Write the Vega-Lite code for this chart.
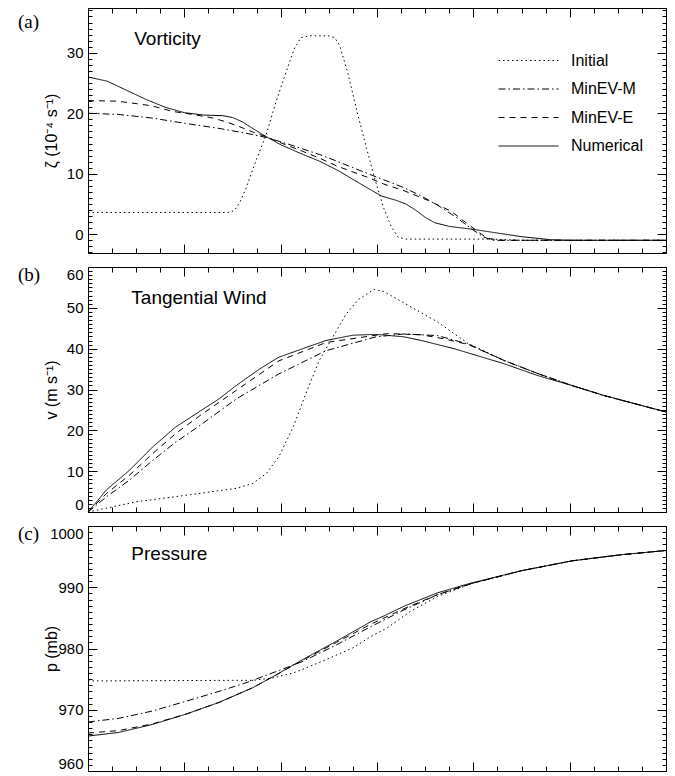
{
  "$schema": "https://vega.github.io/schema/vega-lite/v6.json",
  "background": "white",
  "padding": {"left": 17, "top": 7, "right": 10, "bottom": 6},
  "autosize": {"type": "pad"},
  "spacing": 14,
  "bounds": "flush",
  "resolve": {"legend": {"strokeDash": "independent"}},
  "config": {
    "view": {"stroke": "black", "strokeWidth": 1},
    "font": "Liberation Sans",
    "axis": {"grid": false, "domain": false, "tickColor": "black", "labelColor": "black", "labelFont": "Liberation Sans", "labelFontSize": 15, "titleFont": "Liberation Sans", "titleFontSize": 16, "titleFontWeight": "normal", "titleColor": "black", "tickWidth": 1, "labelOverlap": false, "labelBound": false, "title": null},
    "legend": {"labelFont": "Liberation Sans", "labelFontSize": 16, "labelColor": "black"}
  },
  "datasets": {
    "d": [
      {"panel":"a","series":"Initial","r":0,"v":3.6},{"panel":"a","series":"Initial","r":1.0,"v":3.6},{"panel":"a","series":"Initial","r":1.45,"v":3.6},{"panel":"a","series":"Initial","r":1.52,"v":3.9},{"panel":"a","series":"Initial","r":1.58,"v":5.4},{"panel":"a","series":"Initial","r":1.64,"v":7.6},{"panel":"a","series":"Initial","r":1.74,"v":12.0},{"panel":"a","series":"Initial","r":1.85,"v":16.5},{"panel":"a","series":"Initial","r":1.95,"v":21.8},{"panel":"a","series":"Initial","r":2.06,"v":27.0},{"panel":"a","series":"Initial","r":2.14,"v":30.6},{"panel":"a","series":"Initial","r":2.21,"v":32.5},{"panel":"a","series":"Initial","r":2.3,"v":32.8},{"panel":"a","series":"Initial","r":2.5,"v":32.8},{"panel":"a","series":"Initial","r":2.56,"v":32.5},{"panel":"a","series":"Initial","r":2.61,"v":31.3},{"panel":"a","series":"Initial","r":2.7,"v":26.5},{"panel":"a","series":"Initial","r":2.8,"v":19.8},{"panel":"a","series":"Initial","r":2.89,"v":14.3},{"panel":"a","series":"Initial","r":2.98,"v":9.0},{"panel":"a","series":"Initial","r":3.07,"v":4.3},{"panel":"a","series":"Initial","r":3.15,"v":1.2},{"panel":"a","series":"Initial","r":3.22,"v":-0.5},{"panel":"a","series":"Initial","r":3.3,"v":-0.8},{"panel":"a","series":"Initial","r":4.2,"v":-0.8},{"panel":"a","series":"Initial","r":4.5,"v":-1.0},{"panel":"a","series":"Initial","r":6,"v":-1.0},
      {"panel":"a","series":"MinEV-M","r":0,"v":20.0},{"panel":"a","series":"MinEV-M","r":0.32,"v":19.8},{"panel":"a","series":"MinEV-M","r":0.67,"v":19.2},{"panel":"a","series":"MinEV-M","r":1.02,"v":18.3},{"panel":"a","series":"MinEV-M","r":1.36,"v":17.5},{"panel":"a","series":"MinEV-M","r":1.64,"v":16.7},{"panel":"a","series":"MinEV-M","r":1.85,"v":16.0},{"panel":"a","series":"MinEV-M","r":2.06,"v":15.0},{"panel":"a","series":"MinEV-M","r":2.23,"v":14.1},{"panel":"a","series":"MinEV-M","r":2.4,"v":13.2},{"panel":"a","series":"MinEV-M","r":2.58,"v":12.1},{"panel":"a","series":"MinEV-M","r":2.75,"v":11.0},{"panel":"a","series":"MinEV-M","r":2.94,"v":9.8},{"panel":"a","series":"MinEV-M","r":3.07,"v":9.0},{"panel":"a","series":"MinEV-M","r":3.28,"v":7.7},{"panel":"a","series":"MinEV-M","r":3.45,"v":6.4},{"panel":"a","series":"MinEV-M","r":3.63,"v":4.8},{"panel":"a","series":"MinEV-M","r":3.84,"v":2.6},{"panel":"a","series":"MinEV-M","r":3.98,"v":0.9},{"panel":"a","series":"MinEV-M","r":4.1,"v":-0.4},{"panel":"a","series":"MinEV-M","r":4.2,"v":-1.0},{"panel":"a","series":"MinEV-M","r":6,"v":-1.0},
      {"panel":"a","series":"MinEV-E","r":0,"v":22.1},{"panel":"a","series":"MinEV-E","r":0.3,"v":22.0},{"panel":"a","series":"MinEV-E","r":0.5,"v":21.6},{"panel":"a","series":"MinEV-E","r":0.67,"v":21.2},{"panel":"a","series":"MinEV-E","r":0.88,"v":20.3},{"panel":"a","series":"MinEV-E","r":1.09,"v":19.8},{"panel":"a","series":"MinEV-E","r":1.3,"v":19.2},{"panel":"a","series":"MinEV-E","r":1.43,"v":18.6},{"panel":"a","series":"MinEV-E","r":1.57,"v":17.8},{"panel":"a","series":"MinEV-E","r":1.71,"v":16.9},{"panel":"a","series":"MinEV-E","r":1.85,"v":16.1},{"panel":"a","series":"MinEV-E","r":2.05,"v":14.8},{"panel":"a","series":"MinEV-E","r":2.23,"v":13.7},{"panel":"a","series":"MinEV-E","r":2.4,"v":12.6},{"panel":"a","series":"MinEV-E","r":2.58,"v":11.3},{"panel":"a","series":"MinEV-E","r":2.75,"v":10.3},{"panel":"a","series":"MinEV-E","r":2.92,"v":9.3},{"panel":"a","series":"MinEV-E","r":3.07,"v":8.3},{"panel":"a","series":"MinEV-E","r":3.28,"v":7.2},{"panel":"a","series":"MinEV-E","r":3.53,"v":5.6},{"panel":"a","series":"MinEV-E","r":3.77,"v":3.8},{"panel":"a","series":"MinEV-E","r":3.9,"v":2.2},{"panel":"a","series":"MinEV-E","r":4.05,"v":0.4},{"panel":"a","series":"MinEV-E","r":4.15,"v":-0.7},{"panel":"a","series":"MinEV-E","r":4.3,"v":-1.0},{"panel":"a","series":"MinEV-E","r":6,"v":-1.0},
      {"panel":"a","series":"Numerical","r":0,"v":26.0},{"panel":"a","series":"Numerical","r":0.2,"v":25.3},{"panel":"a","series":"Numerical","r":0.4,"v":23.8},{"panel":"a","series":"Numerical","r":0.6,"v":22.3},{"panel":"a","series":"Numerical","r":0.8,"v":21.0},{"panel":"a","series":"Numerical","r":1.0,"v":20.1},{"panel":"a","series":"Numerical","r":1.2,"v":19.7},{"panel":"a","series":"Numerical","r":1.4,"v":19.6},{"panel":"a","series":"Numerical","r":1.5,"v":19.3},{"panel":"a","series":"Numerical","r":1.6,"v":18.6},{"panel":"a","series":"Numerical","r":1.7,"v":17.6},{"panel":"a","series":"Numerical","r":1.8,"v":16.6},{"panel":"a","series":"Numerical","r":1.9,"v":15.7},{"panel":"a","series":"Numerical","r":2.0,"v":14.8},{"panel":"a","series":"Numerical","r":2.2,"v":13.4},{"panel":"a","series":"Numerical","r":2.4,"v":12.1},{"panel":"a","series":"Numerical","r":2.6,"v":10.5},{"panel":"a","series":"Numerical","r":2.8,"v":8.6},{"panel":"a","series":"Numerical","r":2.95,"v":7.2},{"panel":"a","series":"Numerical","r":3.05,"v":6.3},{"panel":"a","series":"Numerical","r":3.2,"v":5.6},{"panel":"a","series":"Numerical","r":3.3,"v":5.0},{"panel":"a","series":"Numerical","r":3.4,"v":4.0},{"panel":"a","series":"Numerical","r":3.5,"v":2.8},{"panel":"a","series":"Numerical","r":3.6,"v":1.9},{"panel":"a","series":"Numerical","r":3.75,"v":1.3},{"panel":"a","series":"Numerical","r":4.0,"v":0.8},{"panel":"a","series":"Numerical","r":4.25,"v":0.2},{"panel":"a","series":"Numerical","r":4.5,"v":-0.4},{"panel":"a","series":"Numerical","r":4.8,"v":-0.9},{"panel":"a","series":"Numerical","r":5.0,"v":-1.0},{"panel":"a","series":"Numerical","r":6.0,"v":-1.0},

      {"panel":"b","series":"Initial","r":0,"v":0},{"panel":"b","series":"Initial","r":0.5,"v":2.5},{"panel":"b","series":"Initial","r":1.02,"v":4.1},{"panel":"b","series":"Initial","r":1.54,"v":5.8},{"panel":"b","series":"Initial","r":1.71,"v":7.0},{"panel":"b","series":"Initial","r":1.85,"v":9.4},{"panel":"b","series":"Initial","r":1.98,"v":13.5},{"panel":"b","series":"Initial","r":2.13,"v":20.8},{"panel":"b","series":"Initial","r":2.26,"v":28.9},{"panel":"b","series":"Initial","r":2.4,"v":37.1},{"panel":"b","series":"Initial","r":2.54,"v":42.8},{"panel":"b","series":"Initial","r":2.68,"v":48.5},{"panel":"b","series":"Initial","r":2.81,"v":52.1},{"panel":"b","series":"Initial","r":2.97,"v":54.5},{"panel":"b","series":"Initial","r":3.07,"v":54.0},{"panel":"b","series":"Initial","r":3.28,"v":51.2},{"panel":"b","series":"Initial","r":3.63,"v":46.5},{"panel":"b","series":"Initial","r":3.95,"v":41.2},{"panel":"b","series":"Initial","r":4.32,"v":37.1},{"panel":"b","series":"Initial","r":4.67,"v":33.9},{"panel":"b","series":"Initial","r":5.02,"v":31.0},{"panel":"b","series":"Initial","r":5.36,"v":28.5},{"panel":"b","series":"Initial","r":6,"v":24.5},
      {"panel":"b","series":"MinEV-M","r":0,"v":0},{"panel":"b","series":"MinEV-M","r":0.19,"v":3.7},{"panel":"b","series":"MinEV-M","r":0.43,"v":7.8},{"panel":"b","series":"MinEV-M","r":0.67,"v":12.6},{"panel":"b","series":"MinEV-M","r":0.91,"v":17.1},{"panel":"b","series":"MinEV-M","r":1.15,"v":21.0},{"panel":"b","series":"MinEV-M","r":1.54,"v":27.7},{"panel":"b","series":"MinEV-M","r":1.98,"v":33.8},{"panel":"b","series":"MinEV-M","r":2.47,"v":39.5},{"panel":"b","series":"MinEV-M","r":2.99,"v":42.9},{"panel":"b","series":"MinEV-M","r":3.28,"v":43.6},{"panel":"b","series":"MinEV-M","r":3.63,"v":43.2},{"panel":"b","series":"MinEV-M","r":3.95,"v":41.1},{"panel":"b","series":"MinEV-M","r":4.32,"v":37.1},{"panel":"b","series":"MinEV-M","r":4.67,"v":33.9},{"panel":"b","series":"MinEV-M","r":5.02,"v":31.0},{"panel":"b","series":"MinEV-M","r":5.36,"v":28.5},{"panel":"b","series":"MinEV-M","r":6,"v":24.5},
      {"panel":"b","series":"MinEV-E","r":0,"v":0},{"panel":"b","series":"MinEV-E","r":0.19,"v":4.5},{"panel":"b","series":"MinEV-E","r":0.43,"v":9.0},{"panel":"b","series":"MinEV-E","r":0.67,"v":14.3},{"panel":"b","series":"MinEV-E","r":0.91,"v":19.2},{"panel":"b","series":"MinEV-E","r":1.15,"v":23.4},{"panel":"b","series":"MinEV-E","r":1.54,"v":29.8},{"panel":"b","series":"MinEV-E","r":1.98,"v":37.0},{"panel":"b","series":"MinEV-E","r":2.47,"v":41.5},{"panel":"b","series":"MinEV-E","r":2.99,"v":43.3},{"panel":"b","series":"MinEV-E","r":3.11,"v":43.7},{"panel":"b","series":"MinEV-E","r":3.46,"v":43.4},{"panel":"b","series":"MinEV-E","r":3.7,"v":42.4},{"panel":"b","series":"MinEV-E","r":3.95,"v":41.0},{"panel":"b","series":"MinEV-E","r":4.32,"v":37.1},{"panel":"b","series":"MinEV-E","r":4.67,"v":33.9},{"panel":"b","series":"MinEV-E","r":5.02,"v":31.0},{"panel":"b","series":"MinEV-E","r":5.36,"v":28.5},{"panel":"b","series":"MinEV-E","r":6,"v":24.5},
      {"panel":"b","series":"Numerical","r":0,"v":0},{"panel":"b","series":"Numerical","r":0.1,"v":2.8},{"panel":"b","series":"Numerical","r":0.19,"v":5.4},{"panel":"b","series":"Numerical","r":0.43,"v":10.2},{"panel":"b","series":"Numerical","r":0.67,"v":15.9},{"panel":"b","series":"Numerical","r":0.91,"v":20.8},{"panel":"b","series":"Numerical","r":1.15,"v":24.5},{"panel":"b","series":"Numerical","r":1.36,"v":27.7},{"panel":"b","series":"Numerical","r":1.54,"v":31.0},{"panel":"b","series":"Numerical","r":1.78,"v":35.0},{"panel":"b","series":"Numerical","r":1.98,"v":37.9},{"panel":"b","series":"Numerical","r":2.23,"v":40.0},{"panel":"b","series":"Numerical","r":2.47,"v":42.0},{"panel":"b","series":"Numerical","r":2.75,"v":43.3},{"panel":"b","series":"Numerical","r":2.99,"v":43.5},{"panel":"b","series":"Numerical","r":3.28,"v":42.9},{"panel":"b","series":"Numerical","r":3.46,"v":42.0},{"panel":"b","series":"Numerical","r":3.8,"v":40.0},{"panel":"b","series":"Numerical","r":4.32,"v":36.3},{"panel":"b","series":"Numerical","r":4.67,"v":33.4},{"panel":"b","series":"Numerical","r":5.02,"v":31.0},{"panel":"b","series":"Numerical","r":5.36,"v":28.5},{"panel":"b","series":"Numerical","r":6,"v":24.5},

      {"panel":"c","series":"Initial","r":0,"v":974.7},{"panel":"c","series":"Initial","r":1.5,"v":974.8},{"panel":"c","series":"Initial","r":1.71,"v":974.8},{"panel":"c","series":"Initial","r":1.92,"v":975.2},{"panel":"c","series":"Initial","r":2.13,"v":976.0},{"panel":"c","series":"Initial","r":2.4,"v":977.7},{"panel":"c","series":"Initial","r":2.75,"v":980.1},{"panel":"c","series":"Initial","r":2.94,"v":982.0},{"panel":"c","series":"Initial","r":3.11,"v":983.4},{"panel":"c","series":"Initial","r":3.35,"v":986.1},{"panel":"c","series":"Initial","r":3.63,"v":988.5},{"panel":"c","series":"Initial","r":3.98,"v":990.6},{"panel":"c","series":"Initial","r":4.5,"v":992.7},{"panel":"c","series":"Initial","r":5.02,"v":994.3},{"panel":"c","series":"Initial","r":5.53,"v":995.3},{"panel":"c","series":"Initial","r":6,"v":996.0},
      {"panel":"c","series":"MinEV-M","r":0,"v":968.0},{"panel":"c","series":"MinEV-M","r":0.32,"v":968.6},{"panel":"c","series":"MinEV-M","r":0.67,"v":969.8},{"panel":"c","series":"MinEV-M","r":1.02,"v":971.4},{"panel":"c","series":"MinEV-M","r":1.36,"v":973.0},{"panel":"c","series":"MinEV-M","r":1.64,"v":974.4},{"panel":"c","series":"MinEV-M","r":1.88,"v":975.8},{"panel":"c","series":"MinEV-M","r":2.23,"v":977.9},{"panel":"c","series":"MinEV-M","r":2.58,"v":980.6},{"panel":"c","series":"MinEV-M","r":2.94,"v":983.6},{"panel":"c","series":"MinEV-M","r":3.28,"v":986.3},{"panel":"c","series":"MinEV-M","r":3.63,"v":988.8},{"panel":"c","series":"MinEV-M","r":3.98,"v":990.6},{"panel":"c","series":"MinEV-M","r":4.5,"v":992.7},{"panel":"c","series":"MinEV-M","r":5.02,"v":994.3},{"panel":"c","series":"MinEV-M","r":5.53,"v":995.3},{"panel":"c","series":"MinEV-M","r":6,"v":996.0},
      {"panel":"c","series":"MinEV-E","r":0,"v":966.2},{"panel":"c","series":"MinEV-E","r":0.32,"v":966.6},{"panel":"c","series":"MinEV-E","r":0.67,"v":967.7},{"panel":"c","series":"MinEV-E","r":1.02,"v":969.3},{"panel":"c","series":"MinEV-E","r":1.36,"v":971.2},{"panel":"c","series":"MinEV-E","r":1.71,"v":973.6},{"panel":"c","series":"MinEV-E","r":1.92,"v":975.4},{"panel":"c","series":"MinEV-E","r":2.23,"v":978.1},{"panel":"c","series":"MinEV-E","r":2.58,"v":981.0},{"panel":"c","series":"MinEV-E","r":2.94,"v":984.0},{"panel":"c","series":"MinEV-E","r":3.28,"v":986.5},{"panel":"c","series":"MinEV-E","r":3.63,"v":988.8},{"panel":"c","series":"MinEV-E","r":3.98,"v":990.6},{"panel":"c","series":"MinEV-E","r":4.5,"v":992.7},{"panel":"c","series":"MinEV-E","r":5.02,"v":994.3},{"panel":"c","series":"MinEV-E","r":5.53,"v":995.3},{"panel":"c","series":"MinEV-E","r":6,"v":996.0},
      {"panel":"c","series":"Numerical","r":0,"v":965.7},{"panel":"c","series":"Numerical","r":0.32,"v":966.3},{"panel":"c","series":"Numerical","r":0.67,"v":967.6},{"panel":"c","series":"Numerical","r":1.02,"v":969.3},{"panel":"c","series":"Numerical","r":1.36,"v":971.2},{"panel":"c","series":"Numerical","r":1.71,"v":973.6},{"panel":"c","series":"Numerical","r":1.92,"v":975.4},{"panel":"c","series":"Numerical","r":2.23,"v":978.2},{"panel":"c","series":"Numerical","r":2.58,"v":981.2},{"panel":"c","series":"Numerical","r":2.94,"v":984.4},{"panel":"c","series":"Numerical","r":3.07,"v":985.3},{"panel":"c","series":"Numerical","r":3.28,"v":986.9},{"panel":"c","series":"Numerical","r":3.63,"v":989.1},{"panel":"c","series":"Numerical","r":3.98,"v":990.7},{"panel":"c","series":"Numerical","r":4.5,"v":992.7},{"panel":"c","series":"Numerical","r":5.02,"v":994.3},{"panel":"c","series":"Numerical","r":5.53,"v":995.3},{"panel":"c","series":"Numerical","r":6,"v":996.0}
    ],
    "labels": [
      {"panel":"a","text":"Vorticity"},
      {"panel":"b","text":"Tangential Wind"},
      {"panel":"c","text":"Pressure"}
    ]
  },
  "vconcat": [
    {
      "width": 578, "height": 245,
      "title": {"text": "(a)", "orient": "top", "anchor": "start", "frame": "group", "dx": -70, "offset": -24, "font": "Liberation Serif", "fontSize": 19, "fontWeight": "normal", "color": "black"},
      "resolve": {"axis": {"x": "independent", "y": "independent"}},
      "layer": [
        {
          "data": {"name": "d"},
          "transform": [{"filter": "datum.panel === 'a'"}],
          "mark": {"type": "line", "color": "black", "strokeWidth": 1},
          "encoding": {
            "x": {"field": "r", "type": "quantitative", "scale": {"domain": [0, 6], "nice": false, "zero": false},
              "axis": {"orient": "bottom", "labels": false, "values": [0,1,2,3,4,5,6], "tickSize": -9}},
            "y": {"field": "v", "type": "quantitative", "scale": {"domain": [-3.1, 37.4], "nice": false, "zero": false},
              "axis": {"orient": "left", "title": "ζ  (10⁻⁴ s⁻¹)", "titleX": -37, "titleBaseline": "middle", "values": [0,10,20,30], "labelExpr": "format(datum.value, 'd')", "tickSize": -9, "labelPadding": 14}},
            "strokeDash": {"field": "series", "type": "nominal",
              "scale": {"domain": ["Initial", "MinEV-M", "MinEV-E", "Numerical"], "range": [[1.5, 3], [7, 3, 1.5, 3], [6, 5], [1, 0]]},
              "legend": {"orient": "none", "legendX": 430, "legendY": 42, "title": null, "symbolType": "M-3,0H3", "symbolSize": 400, "symbolStrokeWidth": 1, "symbolStrokeColor": "black", "labelOffset": 32, "rowPadding": 9.5, "padding": 0}}
          }
        },
        {
          "data": {"name": "labels"},
          "transform": [{"filter": "datum.panel === 'a'"}],
          "mark": {"type": "text", "align": "left", "baseline": "middle", "fontSize": 19, "font": "Liberation Sans", "color": "black"},
          "encoding": {
            "x": {"datum": 0.48, "type": "quantitative", "scale": {"domain": [0, 6], "nice": false, "zero": false},
              "axis": {"orient": "top", "labels": false, "values": [0,1,2,3,4,5,6], "tickSize": -9}},
            "y": {"datum": 32.3, "type": "quantitative", "scale": {"domain": [-3.1, 37.4], "nice": false, "zero": false},
              "axis": {"orient": "right", "labels": false, "values": [0,10,20,30], "tickSize": -9}},
            "text": {"field": "text"}
          }
        },
        {
          "data": {"name": "labels"},
          "transform": [{"filter": "datum.panel === 'a'"}],
          "mark": {"type": "text"},
          "encoding": {
            "x": {"datum": 0.48, "type": "quantitative", "scale": {"domain": [0, 6], "nice": false, "zero": false},
              "axis": {"orient": "bottom", "labels": false, "values": [0.25,0.5,0.75,1.25,1.5,1.75,2.25,2.5,2.75,3.25,3.5,3.75,4.25,4.5,4.75,5.25,5.5,5.75], "tickSize": -5}},
            "y": {"datum": 32.3, "type": "quantitative", "scale": {"domain": [-3.1, 37.4], "nice": false, "zero": false},
              "axis": {"orient": "left", "labels": false, "values": [-3,-2,-1,1,2,3,4,5,6,7,8,9,11,12,13,14,15,16,17,18,19,21,22,23,24,25,26,27,28,29,31,32,33,34,35,36,37], "tickSize": -4}},
            "text": {"value": ""}
          }
        },
        {
          "data": {"name": "labels"},
          "transform": [{"filter": "datum.panel === 'a'"}],
          "mark": {"type": "text"},
          "encoding": {
            "x": {"datum": 0.48, "type": "quantitative", "scale": {"domain": [0, 6], "nice": false, "zero": false},
              "axis": {"orient": "top", "labels": false, "values": [0.25,0.5,0.75,1.25,1.5,1.75,2.25,2.5,2.75,3.25,3.5,3.75,4.25,4.5,4.75,5.25,5.5,5.75], "tickSize": -5}},
            "y": {"datum": 32.3, "type": "quantitative", "scale": {"domain": [-3.1, 37.4], "nice": false, "zero": false},
              "axis": {"orient": "right", "labels": false, "values": [-3,-2,-1,1,2,3,4,5,6,7,8,9,11,12,13,14,15,16,17,18,19,21,22,23,24,25,26,27,28,29,31,32,33,34,35,36,37], "tickSize": -4}},
            "text": {"value": ""}
          }
        }
      ]
    },
    {
      "width": 578, "height": 245,
      "title": {"text": "(b)", "orient": "top", "anchor": "start", "frame": "group", "dx": -70, "offset": -18, "font": "Liberation Serif", "fontSize": 19, "fontWeight": "normal", "color": "black"},
      "resolve": {"axis": {"x": "independent", "y": "independent"}},
      "layer": [
        {
          "data": {"name": "d"},
          "transform": [{"filter": "datum.panel === 'b'"}],
          "mark": {"type": "line", "color": "black", "strokeWidth": 1},
          "encoding": {
            "x": {"field": "r", "type": "quantitative", "scale": {"domain": [0, 6], "nice": false, "zero": false},
              "axis": {"orient": "bottom", "labels": false, "values": [0,1,2,3,4,5,6], "tickSize": -9}},
            "y": {"field": "v", "type": "quantitative", "scale": {"domain": [0, 60], "nice": false, "zero": false},
              "axis": {"orient": "left", "title": "v  (m s⁻¹)", "titleX": -37, "titleBaseline": "middle", "values": [0,10,20,30,40,50,60], "labelExpr": "format(datum.value, 'd')", "labelFlush": 2, "tickSize": -9, "labelPadding": 14}},
            "strokeDash": {"field": "series", "type": "nominal",
              "scale": {"domain": ["Initial", "MinEV-M", "MinEV-E", "Numerical"], "range": [[1.5, 3], [7, 3, 1.5, 3], [6, 5], [1, 0]]},
              "legend": null}
          }
        },
        {
          "data": {"name": "labels"},
          "transform": [{"filter": "datum.panel === 'b'"}],
          "mark": {"type": "text", "align": "left", "baseline": "middle", "fontSize": 19, "font": "Liberation Sans", "color": "black"},
          "encoding": {
            "x": {"datum": 0.45, "type": "quantitative", "scale": {"domain": [0, 6], "nice": false, "zero": false},
              "axis": {"orient": "top", "labels": false, "values": [0,1,2,3,4,5,6], "tickSize": -9}},
            "y": {"datum": 52.4, "type": "quantitative", "scale": {"domain": [0, 60], "nice": false, "zero": false},
              "axis": {"orient": "right", "labels": false, "values": [0,10,20,30,40,50,60], "tickSize": -9}},
            "text": {"field": "text"}
          }
        },
        {
          "data": {"name": "labels"},
          "transform": [{"filter": "datum.panel === 'b'"}],
          "mark": {"type": "text"},
          "encoding": {
            "x": {"datum": 0.45, "type": "quantitative", "scale": {"domain": [0, 6], "nice": false, "zero": false},
              "axis": {"orient": "bottom", "labels": false, "values": [0.25,0.5,0.75,1.25,1.5,1.75,2.25,2.5,2.75,3.25,3.5,3.75,4.25,4.5,4.75,5.25,5.5,5.75], "tickSize": -5}},
            "y": {"datum": 52.4, "type": "quantitative", "scale": {"domain": [0, 60], "nice": false, "zero": false},
              "axis": {"orient": "left", "labels": false, "values": [1,2,3,4,5,6,7,8,9,11,12,13,14,15,16,17,18,19,21,22,23,24,25,26,27,28,29,31,32,33,34,35,36,37,38,39,41,42,43,44,45,46,47,48,49,51,52,53,54,55,56,57,58,59], "tickSize": -4}},
            "text": {"value": ""}
          }
        },
        {
          "data": {"name": "labels"},
          "transform": [{"filter": "datum.panel === 'b'"}],
          "mark": {"type": "text"},
          "encoding": {
            "x": {"datum": 0.45, "type": "quantitative", "scale": {"domain": [0, 6], "nice": false, "zero": false},
              "axis": {"orient": "top", "labels": false, "values": [0.25,0.5,0.75,1.25,1.5,1.75,2.25,2.5,2.75,3.25,3.5,3.75,4.25,4.5,4.75,5.25,5.5,5.75], "tickSize": -5}},
            "y": {"datum": 52.4, "type": "quantitative", "scale": {"domain": [0, 60], "nice": false, "zero": false},
              "axis": {"orient": "right", "labels": false, "values": [1,2,3,4,5,6,7,8,9,11,12,13,14,15,16,17,18,19,21,22,23,24,25,26,27,28,29,31,32,33,34,35,36,37,38,39,41,42,43,44,45,46,47,48,49,51,52,53,54,55,56,57,58,59], "tickSize": -4}},
            "text": {"value": ""}
          }
        }
      ]
    },
    {
      "width": 578, "height": 245,
      "title": {"text": "(c)", "orient": "top", "anchor": "start", "frame": "group", "dx": -70, "offset": -18, "font": "Liberation Serif", "fontSize": 19, "fontWeight": "normal", "color": "black"},
      "resolve": {"axis": {"x": "independent", "y": "independent"}},
      "layer": [
        {
          "data": {"name": "d"},
          "transform": [{"filter": "datum.panel === 'c'"}],
          "mark": {"type": "line", "color": "black", "strokeWidth": 1},
          "encoding": {
            "x": {"field": "r", "type": "quantitative", "scale": {"domain": [0, 6], "nice": false, "zero": false},
              "axis": {"orient": "bottom", "labels": false, "values": [0,1,2,3,4,5,6], "tickSize": -9}},
            "y": {"field": "v", "type": "quantitative", "scale": {"domain": [960, 1000], "nice": false, "zero": false},
              "axis": {"orient": "left", "title": "p  (mb)", "titleX": -37, "titleBaseline": "middle", "values": [960,970,980,990,1000], "labelExpr": "format(datum.value, 'd')", "labelFlush": 2, "tickSize": -9, "labelPadding": 14}},
            "strokeDash": {"field": "series", "type": "nominal",
              "scale": {"domain": ["Initial", "MinEV-M", "MinEV-E", "Numerical"], "range": [[1.5, 3], [7, 3, 1.5, 3], [6, 5], [1, 0]]},
              "legend": null}
          }
        },
        {
          "data": {"name": "labels"},
          "transform": [{"filter": "datum.panel === 'c'"}],
          "mark": {"type": "text", "align": "left", "baseline": "middle", "fontSize": 19, "font": "Liberation Sans", "color": "black"},
          "encoding": {
            "x": {"datum": 0.45, "type": "quantitative", "scale": {"domain": [0, 6], "nice": false, "zero": false},
              "axis": {"orient": "top", "labels": false, "values": [0,1,2,3,4,5,6], "tickSize": -9}},
            "y": {"datum": 995.5, "type": "quantitative", "scale": {"domain": [960, 1000], "nice": false, "zero": false},
              "axis": {"orient": "right", "labels": false, "values": [960,970,980,990,1000], "tickSize": -9}},
            "text": {"field": "text"}
          }
        },
        {
          "data": {"name": "labels"},
          "transform": [{"filter": "datum.panel === 'c'"}],
          "mark": {"type": "text"},
          "encoding": {
            "x": {"datum": 0.45, "type": "quantitative", "scale": {"domain": [0, 6], "nice": false, "zero": false},
              "axis": {"orient": "bottom", "labels": false, "values": [0.25,0.5,0.75,1.25,1.5,1.75,2.25,2.5,2.75,3.25,3.5,3.75,4.25,4.5,4.75,5.25,5.5,5.75], "tickSize": -5}},
            "y": {"datum": 995.5, "type": "quantitative", "scale": {"domain": [960, 1000], "nice": false, "zero": false},
              "axis": {"orient": "left", "labels": false, "values": [961,962,963,964,965,966,967,968,969,971,972,973,974,975,976,977,978,979,981,982,983,984,985,986,987,988,989,991,992,993,994,995,996,997,998,999], "tickSize": -4}},
            "text": {"value": ""}
          }
        },
        {
          "data": {"name": "labels"},
          "transform": [{"filter": "datum.panel === 'c'"}],
          "mark": {"type": "text"},
          "encoding": {
            "x": {"datum": 0.45, "type": "quantitative", "scale": {"domain": [0, 6], "nice": false, "zero": false},
              "axis": {"orient": "top", "labels": false, "values": [0.25,0.5,0.75,1.25,1.5,1.75,2.25,2.5,2.75,3.25,3.5,3.75,4.25,4.5,4.75,5.25,5.5,5.75], "tickSize": -5}},
            "y": {"datum": 995.5, "type": "quantitative", "scale": {"domain": [960, 1000], "nice": false, "zero": false},
              "axis": {"orient": "right", "labels": false, "values": [961,962,963,964,965,966,967,968,969,971,972,973,974,975,976,977,978,979,981,982,983,984,985,986,987,988,989,991,992,993,994,995,996,997,998,999], "tickSize": -4}},
            "text": {"value": ""}
          }
        }
      ]
    }
  ]
}
